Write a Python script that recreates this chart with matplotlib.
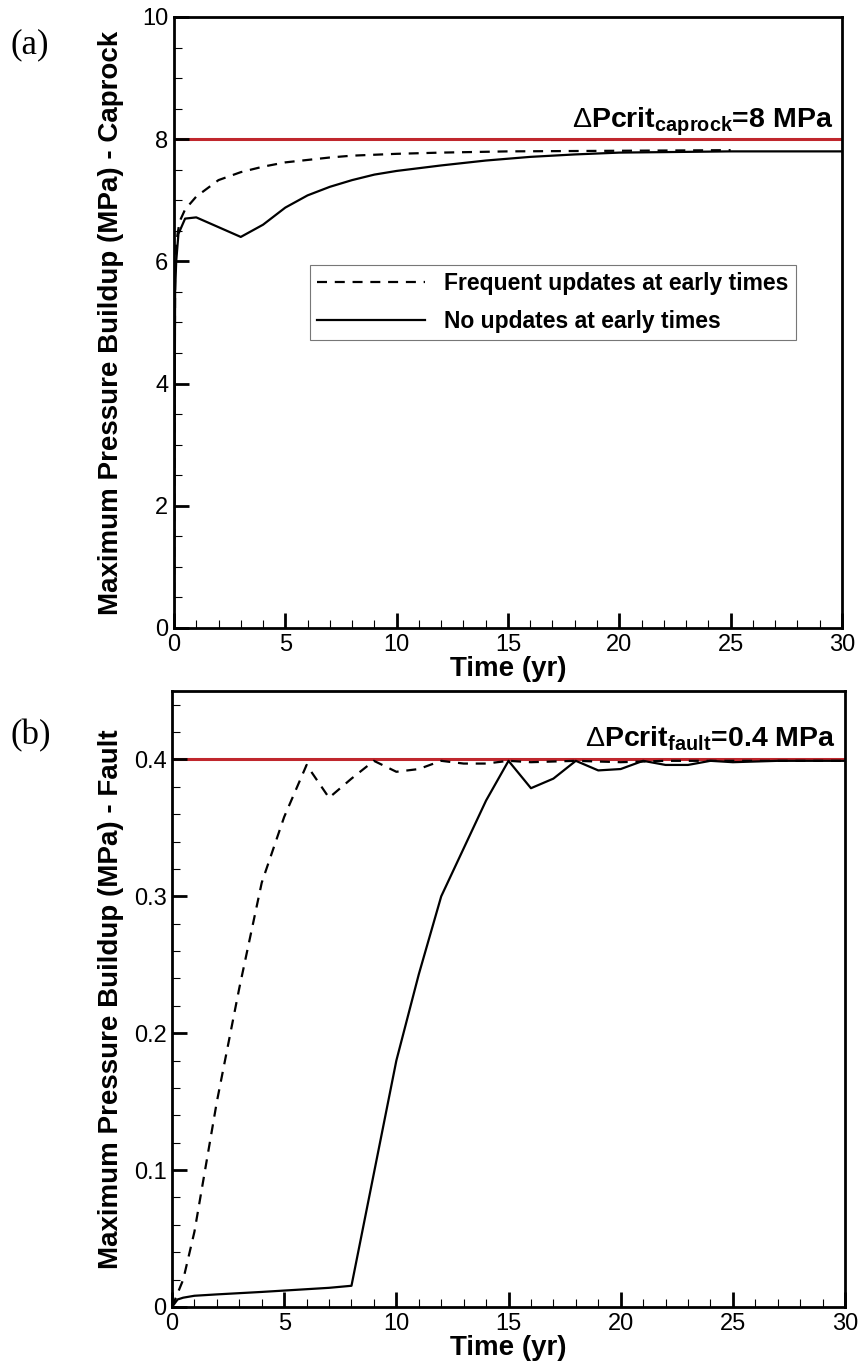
import numpy as np
import matplotlib
matplotlib.use("Agg")
import matplotlib.pyplot as plt
from matplotlib.ticker import MultipleLocator, FuncFormatter

plt.rcParams['font.family'] = ['Liberation Sans', 'DejaVu Sans']
plt.rcParams['mathtext.fontset'] = 'custom'
plt.rcParams['mathtext.rm'] = 'Liberation Sans'
plt.rcParams['mathtext.bf'] = 'Liberation Sans:bold'

# (a) caprock - maximum pressure buildup (MPa)
t_cap_freq = [0, 0.05, 0.1, 0.25, 0.5, 1, 2, 3, 4, 5, 6, 7, 8, 10, 12, 15, 20, 25]
p_cap_freq = [0, 5.8, 6.3, 6.65, 6.85, 7.06, 7.33, 7.46, 7.55, 7.62, 7.66, 7.70,
              7.73, 7.76, 7.78, 7.80, 7.81, 7.82]
t_cap_none = [0, 0.05, 0.1, 0.2, 0.5, 1, 3, 4, 5, 6, 7, 8, 9, 10, 12, 14, 16, 18,
              20, 25, 30]
p_cap_none = [0, 5.5, 6.0, 6.45, 6.70, 6.72, 6.40, 6.60, 6.88, 7.08, 7.22, 7.33,
              7.42, 7.48, 7.57, 7.65, 7.71, 7.75, 7.78, 7.80, 7.80]
crit_caprock = 8.0

# (b) fault - maximum pressure buildup (MPa)
t_flt_freq = [0, 0.5, 1, 2, 3, 4, 5, 6, 7, 8, 9, 10, 11, 12, 13, 14, 15, 16, 18,
              20, 22, 25, 30]
p_flt_freq = [0, 0.02, 0.055, 0.15, 0.233, 0.31, 0.358, 0.396, 0.372, 0.386,
              0.399, 0.391, 0.393, 0.399, 0.397, 0.397, 0.399, 0.398, 0.399,
              0.398, 0.399, 0.399, 0.399]
t_flt_none = [0, 0.25, 0.5, 1, 2, 3, 4, 5, 6, 7, 8, 10, 11, 12, 13, 14, 15, 16,
              17, 18, 19, 20, 21, 22, 23, 24, 25, 27, 30]
p_flt_none = [0, 0.0055, 0.0068, 0.0082, 0.0092, 0.0101, 0.011, 0.012, 0.013,
              0.014, 0.0155, 0.18, 0.243, 0.30, 0.335, 0.37, 0.399, 0.379,
              0.386, 0.399, 0.392, 0.393, 0.399, 0.396, 0.396, 0.399, 0.398,
              0.399, 0.399]
crit_fault = 0.4

labels = ['Frequent updates at early times', 'No updates at early times']

fig = plt.figure(figsize=(8.6, 13.67), dpi=100)
ax1 = fig.add_axes([0.2023, 0.5406, 0.7767, 0.447])
ax2 = fig.add_axes([0.2000, 0.0439, 0.7826, 0.4506])

red = '#c0272d'
lw = 1.6
dash = (0, (4.5, 3.5))


def style(ax, ymax, ymaj, ymin, fmt):
    ax.set_xlim(0, 30)
    ax.set_ylim(0, ymax)
    ax.xaxis.set_major_locator(MultipleLocator(5))
    ax.xaxis.set_minor_locator(MultipleLocator(1))
    ax.yaxis.set_major_locator(MultipleLocator(ymaj))
    ax.yaxis.set_minor_locator(MultipleLocator(ymin))
    ax.yaxis.set_major_formatter(FuncFormatter(fmt))
    ax.tick_params(which='both', direction='in', top=False, right=False,
                   labelsize=17)
    ax.tick_params(which='major', length=11, width=2, pad=4)
    ax.tick_params(which='minor', length=6, width=0.8)
    for s in ax.spines.values():
        s.set_linewidth(2)
    ax.set_xlabel('Time (yr)', fontsize=20, fontweight='bold', labelpad=0)


style(ax1, 10, 2, 0.5, lambda v, p: f'{v:g}')
style(ax2, 0.45, 0.1, 0.02, lambda v, p: f'{v:.1f}'.rstrip('0').rstrip('.') if v else '0')

# panel (a)
ax1.axhline(crit_caprock, color=red, lw=2.2, zorder=1)
ax1.plot(t_cap_freq, p_cap_freq, color='black', lw=lw, ls=dash, label=labels[0])
ax1.plot(t_cap_none, p_cap_none, color='black', lw=lw, label=labels[1])
ax1.text(29.6, 8.2, r'$\Delta$Pcrit$_{\mathbf{caprock}}$=8 MPa',
         ha='right', va='baseline', fontsize=20.5, fontweight='bold')
ax1.set_ylabel('Maximum Pressure Buildup (MPa) - Caprock', fontsize=20,
               fontweight='bold')
ax1.yaxis.set_label_coords(-0.075, 0.5)
leg = ax1.legend(loc='upper left', bbox_to_anchor=(0.204, 0.594),
                 prop={'weight': 'bold', 'size': 16.5}, frameon=True,
                 fancybox=False, edgecolor='#777777', framealpha=1,
                 handlelength=4.7, handletextpad=0.85, borderpad=0.3,
                 labelspacing=0.65, borderaxespad=0)
leg.get_frame().set_linewidth(0.8)

# panel (b)
ax2.axhline(crit_fault, color=red, lw=2.2, zorder=1)
ax2.plot(t_flt_freq, p_flt_freq, color='black', lw=lw, ls=dash)
ax2.plot(t_flt_none, p_flt_none, color='black', lw=lw)
ax2.text(29.6, 0.41, r'$\Delta$Pcrit$_{\mathbf{fault}}$=0.4 MPa',
         ha='right', va='baseline', fontsize=20.5, fontweight='bold')
ax2.set_ylabel('Maximum Pressure Buildup (MPa) - Fault', fontsize=20,
               fontweight='bold')
ax2.yaxis.set_label_coords(-0.072, 0.5)

fig.text(0.012, 0.967, '(a)', fontsize=25, family='Liberation Serif', va='center')
fig.text(0.012, 0.462, '(b)', fontsize=25, family='Liberation Serif', va='center')

fig.savefig('out.png', dpi=100)
